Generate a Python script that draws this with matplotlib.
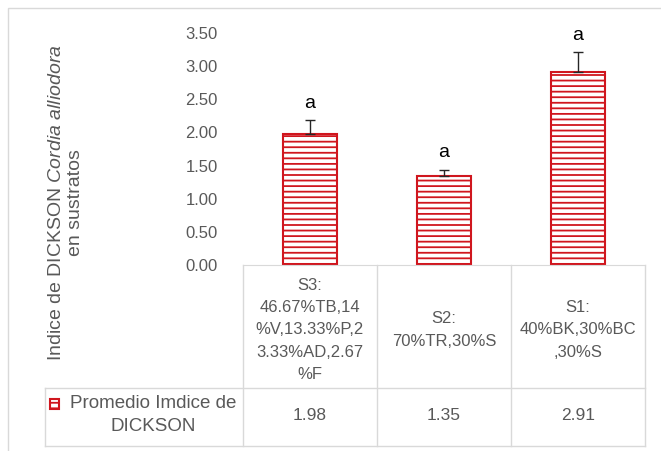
import matplotlib.pyplot as plt
from matplotlib.patches import Rectangle
from matplotlib.lines import Line2D
import matplotlib.transforms as mtransforms

# Data
categories = ['S3:\n46.67%TB,14\n%V,13.33%P,2\n3.33%AD,2.67\n%F',
              'S2:\n70%TR,30%S',
              'S1:\n40%BK,30%BC\n,30%S']
means = [1.98, 1.35, 2.91]
errors = [0.20, 0.09, 0.30]
letters = ['a', 'a', 'a']
series_name = 'Promedio Imdice de\nDICKSON'
yticks = [0.0, 0.5, 1.0, 1.5, 2.0, 2.5, 3.0, 3.5]

plt.rcParams['font.family'] = ['Liberation Sans', 'DejaVu Sans']
plt.rcParams['mathtext.fontset'] = 'custom'
plt.rcParams['mathtext.rm'] = 'Liberation Sans'
plt.rcParams['mathtext.it'] = 'Liberation Sans:italic'
plt.rcParams['hatch.linewidth'] = 1.3

red = '#d0161e'
grey = '#595959'
line_grey = '#d9d9d9'
W, H = 661, 451

fig = plt.figure(figsize=(W / 100, H / 100), dpi=100)

def fy(px):
    return 1 - px / H

def fx(px):
    return px / W

# outer chart border
fig.patches.append(Rectangle((fx(8), fy(470)), 1.2, fy(8) - fy(470), transform=fig.transFigure,
                             fill=False, edgecolor=line_grey, linewidth=1))

ax = fig.add_axes([fx(243), fy(265), fx(645) - fx(243), fy(33) - fy(265)])
x = list(range(len(means)))
ax.bar(x, means, width=0.4, color='white', edgecolor=red, hatch='---', linewidth=1.5, zorder=2)
ax.errorbar(x, means, yerr=[[0] * len(errors), errors], fmt='none', ecolor='#262626',
            elinewidth=1, capsize=3.5, capthick=1, zorder=3)
for xi, m, e, lab in zip(x, means, errors, letters):
    ax.annotate(lab, (xi, m + e), xytext=(0, 6), textcoords='offset points',
                ha='center', va='bottom', fontsize=14, color='black', annotation_clip=False)

ax.set_xlim(-0.5, len(means) - 0.5)
ax.set_ylim(0, 3.5)
ax.set_yticks(yticks)
ax.set_yticklabels([f'{t:.2f}' for t in yticks], color=grey, fontsize=12)
ax.tick_params(axis='y', length=0, pad=18)
ax.set_xticks([])
for s in ['top', 'right', 'left']:
    ax.spines[s].set_visible(False)
ax.spines['bottom'].set_color(line_grey)

fig.text(fx(66), fy(203), 'Indice de DICKSON $\\it{Cordia\\ alliodora}$\nen sustratos',
         rotation=90, ha='center', va='center', fontsize=14, color=grey, linespacing=1.2)

# data table under the chart
bt = mtransforms.blended_transform_factory(ax.transData, fig.transFigure)
bounds = [i - 0.5 for i in range(len(means) + 1)]
for b in bounds:
    ax.add_line(Line2D([b, b], [fy(265), fy(446)], transform=bt, color=line_grey,
                       linewidth=1, clip_on=False))
for ypx in [388, 446]:
    fig.add_artist(Line2D([fx(45), fx(645)], [fy(ypx), fy(ypx)], transform=fig.transFigure,
                          color=line_grey, linewidth=1))
fig.add_artist(Line2D([fx(45), fx(45)], [fy(388), fy(446)], transform=fig.transFigure,
                      color=line_grey, linewidth=1))

for xi, cat, m in zip(x, categories, means):
    ax.text(xi, fy(330), cat, transform=bt, ha='center', va='center', fontsize=12,
            color=grey, linespacing=1.6, family=['Liberation Sans Narrow', 'Liberation Sans'])
    ax.text(xi, fy(415), f'{m:.2f}', transform=bt, ha='center', va='center',
            fontsize=12.5, color=grey)

fig.patches.append(Rectangle((fx(50), fy(409)), fx(9), fy(399) - fy(409), transform=fig.transFigure,
                             facecolor='white', edgecolor=red, hatch='---', linewidth=1.5))
fig.text(fx(153), fy(415), series_name, ha='center', va='center', fontsize=13.5,
         color=grey, linespacing=1.45)

fig.savefig('out.png', dpi=100)
